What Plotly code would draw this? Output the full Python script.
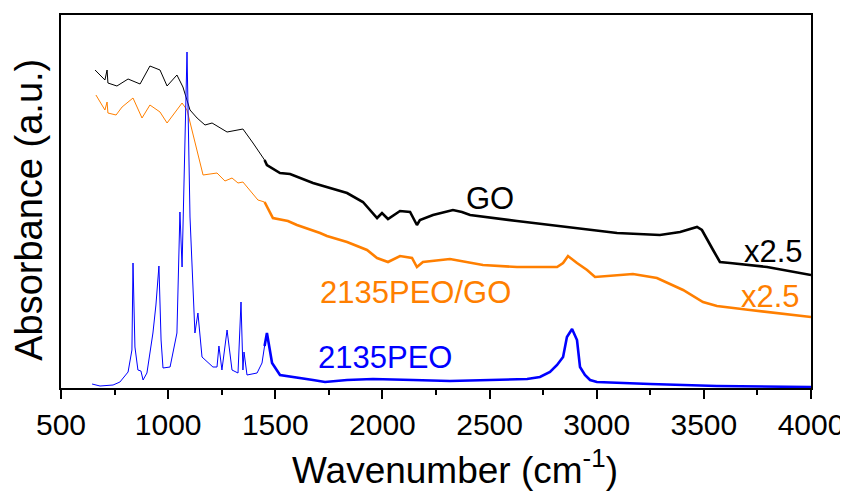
import plotly.graph_objects as go

# ---- data (wavenumber in cm^-1, absorbance in a.u.) ----
go_wn = [659, 705, 715, 719, 761, 813, 869, 915, 962, 995, 1041, 1069, 1102, 1135, 1172,
         1205, 1275, 1349, 1396, 1450, 1461, 1522, 1569, 1676, 1835, 1909, 1975, 1998, 2026,
         2082, 2129, 2161, 2175, 2236, 2329, 2371, 2409, 2628, 2861, 3095, 3295, 3389,
         3468, 3491, 3543, 3575, 3622, 3795, 4000]
go_abs = [3.18, 3.08, 3.18, 3.05, 3.02, 3.09, 3.04, 3.22, 3.18, 3.02, 3.13, 3.01, 2.78, 2.70,
          2.63, 2.65, 2.56, 2.59, 2.45, 2.28, 2.23, 2.15, 2.14, 2.05, 1.95, 1.86, 1.70, 1.75,
          1.69, 1.77, 1.76, 1.63, 1.68, 1.73, 1.78, 1.76, 1.73, 1.67, 1.61, 1.55, 1.53, 1.56,
          1.61, 1.58, 1.38, 1.26, 1.25, 1.21, 1.13]

pg_wn = [663, 705, 715, 719, 757, 785, 836, 878, 915, 962, 995, 1032, 1065, 1088, 1125,
         1163, 1228, 1265, 1298, 1326, 1349, 1419, 1450, 1489, 1559, 1601, 1709, 1741, 1835,
         1928, 1975, 2026, 2082, 2138, 2161, 2189, 2315, 2469, 2628, 2815, 2843, 2866,
         2908, 2955, 2992, 3048, 3169, 3281, 3403, 3496, 3561, 3715, 4000]
pg_abs = [2.93, 2.78, 2.86, 2.75, 2.73, 2.81, 2.90, 2.70, 2.83, 2.76, 2.65, 2.75, 2.85, 2.78,
          2.45, 2.13, 2.15, 2.07, 2.10, 2.05, 2.06, 1.88, 1.86, 1.70, 1.67, 1.63, 1.55, 1.52,
          1.46, 1.38, 1.30, 1.26, 1.32, 1.30, 1.21, 1.26, 1.29, 1.23, 1.21, 1.21, 1.25, 1.32,
          1.25, 1.18, 1.11, 1.12, 1.14, 1.10, 0.98, 0.86, 0.82, 0.78, 0.71]

peo_wn = [645, 682, 743, 775, 813, 831, 836, 845, 859, 873, 883, 901, 929, 943, 957, 967,
          976, 1009, 1041, 1055, 1065, 1088, 1102, 1125, 1139, 1158, 1209, 1228, 1237, 1251,
          1275, 1298, 1326, 1340, 1349, 1354, 1368, 1415, 1438, 1450, 1461, 1485, 1522, 1676,
          1732, 1835, 1956, 2143, 2315, 2675, 2735, 2782, 2815, 2843, 2861, 2885, 2908, 2922,
          2945, 2969, 3001, 3249, 3561, 4000]
peo_abs = [0.04, 0.02, 0.03, 0.06, 0.16, 0.38, 1.25, 0.41, 0.18, 0.17, 0.08, 0.15, 0.55, 0.83,
           1.22, 0.48, 0.20, 0.21, 0.55, 1.76, 1.21, 3.36, 1.71, 0.55, 0.75, 0.31, 0.21, 0.21,
           0.42, 0.18, 0.58, 0.18, 0.15, 0.86, 0.18, 0.36, 0.13, 0.15, 0.25, 0.42, 0.55, 0.25,
           0.13, 0.08, 0.06, 0.08, 0.09, 0.08, 0.07, 0.09, 0.11, 0.16, 0.23, 0.31, 0.51, 0.59,
           0.48, 0.21, 0.13, 0.08, 0.06, 0.04, 0.02, 0.01]

x_ticks = [500, 1000, 1500, 2000, 2500, 3000, 3500, 4000]

series = [
    ("GO", go_wn, go_abs, "#000000"),
    ("2135PEO/GO", pg_wn, pg_abs, "#FF7F00"),
    ("2135PEO", peo_wn, peo_abs, "#0000FF"),
]

SPLIT = 1450  # the measured spectra look thin below this and thick (noisy) above

fig = go.Figure()
for name, xs, ys, col in series:
    lo = [(x, y) for x, y in zip(xs, ys) if x <= SPLIT]
    hi = [(x, y) for x, y in zip(xs, ys) if x >= SPLIT]
    fig.add_trace(go.Scatter(x=[p[0] for p in lo], y=[p[1] for p in lo], mode="lines",
                             line=dict(color=col, width=1), name=name, showlegend=False))
    fig.add_trace(go.Scatter(x=[p[0] for p in hi], y=[p[1] for p in hi], mode="lines",
                             line=dict(color=col, width=2.6), name=name, showlegend=False))

FONT = "Arial, 'Liberation Sans', sans-serif"

annots = [
    ("GO", 2502, 1.90, "#000000"),
    ("x2.5", 3823, 1.37, "#000000"),
    ("x2.5", 3813, 0.92, "#FF7F00"),
    ("2135PEO/GO", 2152, 0.96, "#FF7F00"),
    ("2135PEO", 2012, 0.31, "#0000FF"),
]
for txt, x, y, col in annots:
    fig.add_annotation(x=x, y=y, text=txt, showarrow=False, xref="x", yref="y",
                       font=dict(family=FONT, size=31, color=col),
                       xanchor="center", yanchor="middle")

# axis titles
fig.add_annotation(x=0.525, y=-0.212, xref="paper", yref="paper", showarrow=False,
                   text="Wavenumber (cm<sup>-1</sup>)", xanchor="center", yanchor="middle",
                   font=dict(family=FONT, size=37, color="black"))
fig.add_annotation(x=-0.043, y=0.477, xref="paper", yref="paper", showarrow=False,
                   text="Absorbance (a.u.)", textangle=-90, xanchor="center", yanchor="middle",
                   font=dict(family=FONT, size=38, color="black"))

# the page body adds an 8px offset, so the figure is placed 8px less than the reference
fig.update_layout(
    width=840, height=483,
    margin=dict(l=53, r=37, t=7, b=103, autoexpand=False),
    paper_bgcolor="white", plot_bgcolor="white",
    font=dict(family=FONT, color="black"),
)
fig.update_xaxes(
    range=[500, 4000], tickvals=x_ticks, ticktext=[str(v) for v in x_ticks],
    ticks="outside", ticklen=9, tickwidth=1.5, tickcolor="black",
    minor=dict(ticks="outside", ticklen=5, tickwidth=1.5, tickcolor="black", dtick=250),
    tickfont=dict(size=30, family=FONT),
    showline=True, linecolor="black", linewidth=1.5, mirror=True,
    showgrid=False, zeroline=False, automargin=False,
)
fig.update_yaxes(
    range=[0, 3.73], showticklabels=False, ticks="",
    showline=True, linecolor="black", linewidth=1.5, mirror=True,
    showgrid=False, zeroline=False, automargin=False,
)

fig.write_html("out.html")
